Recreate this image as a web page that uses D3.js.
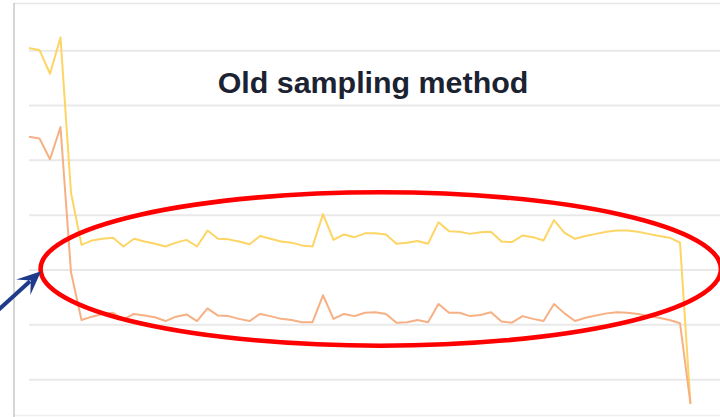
<!DOCTYPE html>
<html>
<head>
<meta charset="utf-8">
<script src="https://cdn.jsdelivr.net/npm/d3@7"></script>
<style>
  html, body { margin: 0; padding: 0; background: #fff; }
  svg { display: block; }
</style>
</head>
<body>
<svg id="chart" width="720" height="417"></svg>
<script>
// ---- data ----
const title = "Old sampling method";
const categories = d3.range(64);
const seriesA = [70.4, 70.0, 65.7, 72.3, 44.0, 34.5, 35.3, 35.6, 35.8, 34.2,
  35.6, 35.1, 34.7, 34.2, 34.9, 35.4, 34.2, 37.1, 35.6, 35.5,
  35.1, 34.6, 36.1, 35.6, 35.1, 34.9, 34.4, 34.2, 40.1, 35.4,
  36.4, 35.9, 36.6, 36.6, 36.4, 34.7, 34.9, 35.2, 34.7, 38.6,
  37.0, 36.9, 36.5, 36.8, 36.9, 35.1, 35.0, 36.2, 35.9, 35.3,
  39.0, 36.7, 35.6, 36.1, 36.5, 36.9, 37.1, 37.1, 36.9, 36.5,
  36.1, 35.8, 34.9, 5.5];
const seriesB = [54.2, 53.9, 50.1, 56.0, 29.5, 20.8, 21.4, 21.9, 22.1, 20.9,
  21.9, 21.6, 21.3, 20.6, 21.4, 21.8, 20.6, 22.9, 21.6, 21.5,
  21.0, 20.6, 21.9, 21.5, 21.0, 20.8, 20.4, 20.4, 25.3, 21.0,
  21.9, 21.5, 22.1, 22.2, 21.9, 20.3, 20.4, 20.8, 20.4, 23.7,
  22.1, 22.1, 21.5, 21.7, 22.2, 20.5, 20.3, 21.5, 21.0, 20.6,
  23.7, 22.0, 20.6, 21.2, 21.6, 22.0, 22.2, 22.1, 21.9, 21.5,
  21.2, 20.8, 20.2, 5.5];
const gridTicks = [10, 20, 30, 40, 50, 60, 70];
// annotation (in data units)
const ellipseCenter = [33.5, 30.1];
const ellipseRadii = [32.4, 14.0];
const arrowTail = [-3.1, 22.3];
const arrowTip = [1.15, 29.7];

// ---- layout ----
const W = 720, H = 417;
const svg = d3.select("#chart");
const x = d3.scaleLinear().domain([0, 63]).range([29, 690.5]);
const y = d3.scaleLinear().domain([0, 80]).range([434, 434 - 80 * 5.483]);

// frame
svg.append("line").attr("x1", 14).attr("x2", W).attr("y1", 3.5).attr("y2", 3.5)
  .attr("stroke", "#e6e6e6").attr("stroke-width", 1.5);
svg.append("line").attr("x1", 14).attr("x2", W).attr("y1", 415.5).attr("y2", 415.5)
  .attr("stroke", "#f0f0f0").attr("stroke-width", 1.5);
svg.append("line").attr("x1", 14).attr("x2", 14).attr("y1", 3).attr("y2", H)
  .attr("stroke", "#c9c9c9").attr("stroke-width", 1.5);

// gridlines
const grid = svg.append("g").attr("transform", "translate(29,0)")
  .call(d3.axisLeft(y).tickValues(gridTicks).tickSize(-(W - 29)).tickFormat(""));
grid.select(".domain").remove();
grid.selectAll(".tick line").attr("stroke", "#e9e9e9").attr("stroke-width", 2);

// lines
const line = d3.line().x((d, i) => x(categories[i])).y(d => y(d));
svg.append("path").datum(seriesA).attr("d", line)
  .attr("fill", "none").attr("stroke", "#fdd564").attr("stroke-width", 2)
  .attr("stroke-linejoin", "round");
svg.append("path").datum(seriesB).attr("d", line)
  .attr("fill", "none").attr("stroke", "#f6b084").attr("stroke-width", 2)
  .attr("stroke-linejoin", "round");

// title
svg.append("text").attr("x", 373).attr("y", 92.5).attr("text-anchor", "middle")
  .attr("font-family", "'Liberation Sans', Arial, sans-serif")
  .attr("font-weight", "bold").attr("font-size", 30.4).attr("fill", "#1b2231")
  .text(title);

// ellipse
const cx = x(ellipseCenter[0]), cy = y(ellipseCenter[1]);
const rx = x(ellipseCenter[0] + ellipseRadii[0]) - cx;
const ry = cy - y(ellipseCenter[1] + ellipseRadii[1]);
svg.append("ellipse").attr("cx", cx).attr("cy", cy).attr("rx", rx).attr("ry", ry)
  .attr("fill", "none").attr("stroke", "#fe0000").attr("stroke-width", 4.6);

// arrow
const tx = x(arrowTip[0]), ty = y(arrowTip[1]);
const sx = x(arrowTail[0]), sy = y(arrowTail[1]);
const ang = Math.atan2(ty - sy, tx - sx);
const headLen = 21, headHalf = 10.5;
const c = Math.cos(ang), s = Math.sin(ang);
const bx = tx - headLen * c, by = ty - headLen * s;
const nx = -s, ny = c;
svg.append("line").attr("x1", sx).attr("y1", sy)
  .attr("x2", tx - (headLen - 6) * c).attr("y2", ty - (headLen - 6) * s)
  .attr("stroke", "#1f3a8a").attr("stroke-width", 4);
const nb = tx - (headLen - 7) * c, nbY = ty - (headLen - 7) * s;
svg.append("path")
  .attr("d", `M${tx},${ty} L${bx + nx * headHalf - 3 * c},${by + ny * headHalf - 3 * s} L${nb},${nbY} L${bx - nx * headHalf - 3 * c},${by - ny * headHalf - 3 * s} Z`)
  .attr("fill", "#1f3a8a");
</script>
</body>
</html>
